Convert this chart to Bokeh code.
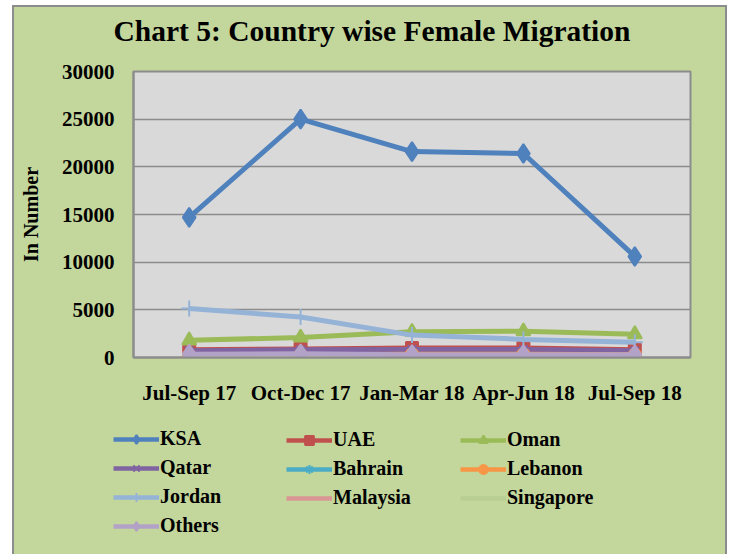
from bokeh.plotting import figure
from bokeh.models import Legend, LegendItem, Range1d, FactorRange, SingleIntervalTicker, Label
from bokeh.layouts import column, row
from bokeh.embed import file_html
from bokeh.resources import INLINE

title_text = "Chart 5: Country wise Female Migration"
periods = ["Jul-Sep 17", "Oct-Dec 17", "Jan-Mar 18", "Apr-Jun 18", "Jul-Sep 18"]
ksa = [14700, 25000, 21600, 21400, 10600]
uae = [800, 900, 1000, 1000, 800]
oman = [1800, 2100, 2700, 2750, 2450]
qatar = [700, 800, 850, 850, 700]
bahrain = [50, 50, 50, 50, 50]
lebanon = [250, 300, 350, 350, 300]
jordan = [5150, 4250, 2350, 1900, 1600]
malaysia = [100, 100, 100, 100, 100]
singapore = [20, 20, 20, 20, 20]
others = [350, 400, 300, 300, 300]

FONT = "Liberation Serif"
GREEN = "#C3D69B"
W = 711
TH = 44


def blank(h, x_range, y_range):
    f = figure(width=W, height=h, x_range=x_range, y_range=y_range,
               output_backend="svg", toolbar_location=None,
               min_border_left=0, min_border_right=0, min_border_top=0, min_border_bottom=0)
    f.axis.visible = False
    f.grid.visible = False
    f.outline_line_color = None
    f.background_fill_color = GREEN
    f.border_fill_color = GREEN
    return f


# title strip
tf = blank(TH, Range1d(0, W), Range1d(0, TH))
tf.add_layout(Label(x=99, y=TH - 23, text=title_text, text_font=FONT, text_font_size="29.5px",
                    text_font_style="bold", text_color="black", text_baseline="middle"))

p = figure(width=W, height=405 - TH, x_range=FactorRange(*periods), y_range=Range1d(0, 30000),
           output_backend="svg", toolbar_location=None, title=None,
           min_border_left=119, min_border_right=35, min_border_bottom=55, min_border_top=64 - TH)
p.background_fill_color = "#D9D9D9"
p.border_fill_color = GREEN
p.outline_line_color = "#8C8C8C"
p.outline_line_width = 2

p.yaxis.ticker = SingleIntervalTicker(interval=5000)
for ax in (p.xaxis[0], p.yaxis[0]):
    ax.major_label_text_font = FONT
    ax.major_label_text_font_size = "21px"
    ax.major_label_text_font_style = "bold"
    ax.major_label_text_color = "black"
    ax.major_tick_line_color = None
    ax.minor_tick_line_color = None
    ax.axis_line_color = "#8C8C8C"
    ax.axis_line_width = 2
p.yaxis.major_label_standoff = 13
p.xaxis.major_label_standoff = 17
p.yaxis.axis_label = "In Number"
p.yaxis.axis_label_text_font = FONT
p.yaxis.axis_label_text_font_size = "20px"
p.yaxis.axis_label_text_font_style = "bold"
p.yaxis.axis_label_text_color = "black"
p.yaxis.axis_label_standoff = 17
p.xgrid.grid_line_color = None
p.ygrid.grid_line_color = "#8C8C8C"
p.ygrid.grid_line_width = 1.5

series = [
    ("KSA", ksa, "#4F81BD", "diamond", 19),
    ("UAE", uae, "#C0504D", "square", 12),
    ("Oman", oman, "#9BBB59", "triangle", 14),
    ("Qatar", qatar, "#8064A2", "x", 12),
    ("Bahrain", bahrain, "#4BACC6", "asterisk", 12),
    ("Lebanon", lebanon, "#F79646", "circle", 12),
    ("Jordan", jordan, "#95B3D7", "cross", 16),
    ("Malaysia", malaysia, "#D99694", None, 0),
    ("Singapore", singapore, "#B9CE93", None, 0),
    ("Others", others, "#B3A2C7", "diamond", 19),
]

# legend panel: a figure under the chart; its copies of the series lie outside its y range
LH = 142
lg = blank(LH, FactorRange(*periods), Range1d(-2, -1))

items = {}
for name, vals, col, mk, sz in series:
    p.line(periods, vals, line_color=col, line_width=5)
    r = [lg.line(periods, vals, line_color=col, line_width=4.5)]
    if mk:
        p.scatter(periods, vals, marker=mk, size=sz, fill_color=col, line_color=col, line_width=2)
        r.append(lg.scatter(periods, vals, marker=mk, size=sz * 0.7, fill_color=col, line_color=col, line_width=2))
    items[name] = LegendItem(label=name, renderers=r)

cols = [["KSA", "Qatar", "Jordan", "Others"], ["UAE", "Bahrain", "Malaysia"], ["Oman", "Lebanon", "Singapore"]]
xs = [99, 272, 446]
for names, x0 in zip(cols, xs):
    nrow = len(names)
    h = nrow * 22 + (nrow - 1) * 6
    leg = Legend(items=[items[n] for n in names], location=(x0, LH - 19 - h),
                 label_text_font=FONT, label_text_font_size="20px", label_text_font_style="bold",
                 label_text_color="black",
                 glyph_width=46, glyph_height=22, label_height=22, label_standoff=1,
                 spacing=6, padding=0, margin=0, border_line_color=None, background_fill_alpha=0)
    lg.add_layout(leg, "center")

layout = column(row(tf), p, row(lg), spacing=0,
                styles={"margin": "5px 0 0 12px", "border": "2px solid #8C8C8C", "border-bottom": "none",
                        "background-color": GREEN, "width": "fit-content"})
open("out.html", "w").write(file_html(layout, INLINE))
